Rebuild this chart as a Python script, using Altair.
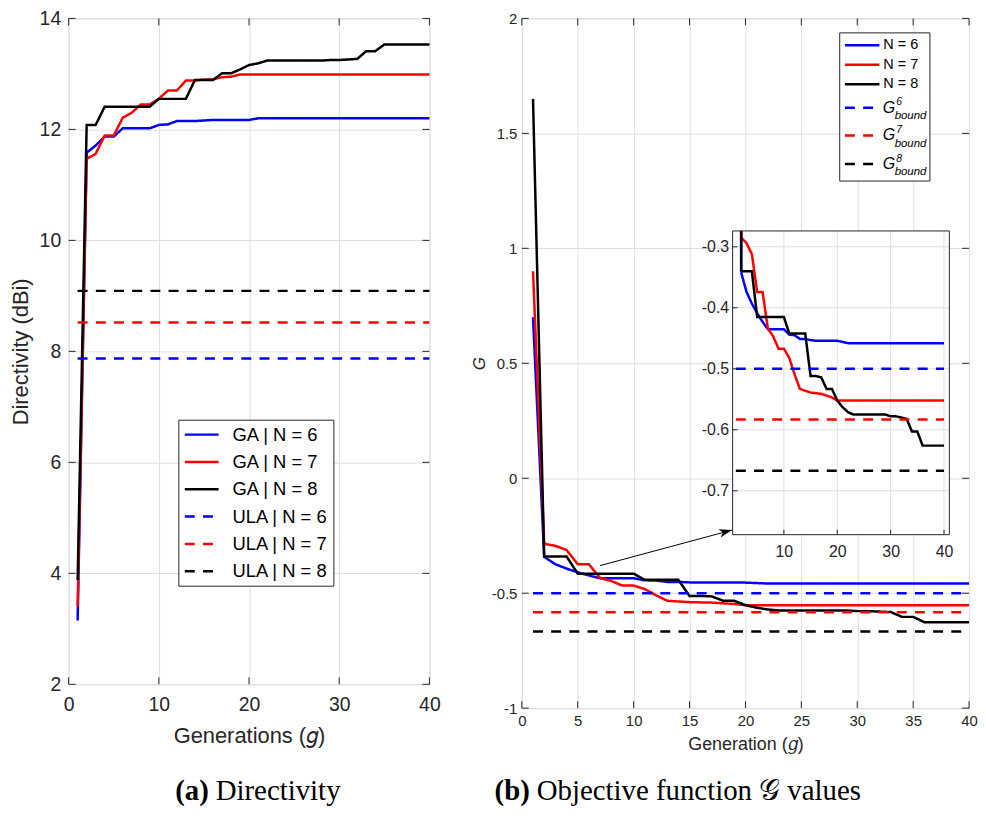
import math
import altair as alt
import pandas as pd

# ---------------- data ----------------
gens = list(range(1, 41))

# (a) Directivity (dBi) per generation
ga_n6 = [3.15, 11.58, 11.71, 11.87, 11.87, 12.02, 12.02, 12.02, 12.02, 12.08,
         12.09, 12.15, 12.15, 12.15, 12.16, 12.17, 12.17, 12.17, 12.17, 12.17,
         12.20, 12.20, 12.20, 12.20, 12.20, 12.20, 12.20, 12.20, 12.20, 12.20,
         12.20, 12.20, 12.20, 12.20, 12.20, 12.20, 12.20, 12.20, 12.20, 12.20]
ga_n7 = [3.40, 11.47, 11.56, 11.89, 11.89, 12.21, 12.30, 12.45, 12.45, 12.55,
         12.70, 12.70, 12.88, 12.88, 12.90, 12.90, 12.94, 12.95, 12.99, 12.99,
         12.99, 12.99, 12.99, 12.99, 12.99, 12.99, 12.99, 12.99, 12.99, 12.99,
         12.99, 12.99, 12.99, 12.99, 12.99, 12.99, 12.99, 12.99, 12.99, 12.99]
ga_n8 = [3.88, 12.08, 12.08, 12.41, 12.41, 12.41, 12.41, 12.41, 12.41, 12.55,
         12.55, 12.55, 12.55, 12.89, 12.89, 12.89, 13.01, 13.01, 13.08, 13.16,
         13.19, 13.24, 13.24, 13.24, 13.24, 13.24, 13.24, 13.24, 13.25, 13.25,
         13.26, 13.27, 13.41, 13.41, 13.53, 13.53, 13.53, 13.53, 13.53, 13.53]
ula_levels = [7.87, 8.52, 9.09]
left_names = ["\u2002GA | N = 6", "\u2002GA | N = 7", "\u2002GA | N = 8",
              "ULA | N = 6", "ULA | N = 7", "ULA | N = 8"]
left_x_ticks = [0, 10, 20, 30, 40]
left_y_ticks = [2, 4, 6, 8, 10, 12, 14]

# (b) Objective function values per generation
obj_n6 = [0.70, -0.342, -0.374, -0.393, -0.409, -0.423, -0.435, -0.435, -0.435, -0.435,
          -0.444, -0.445, -0.451, -0.451, -0.453, -0.454, -0.454, -0.454, -0.454, -0.454,
          -0.456, -0.458, -0.458, -0.458, -0.458, -0.458, -0.458, -0.458, -0.458, -0.458,
          -0.458, -0.458, -0.458, -0.458, -0.458, -0.458, -0.458, -0.458, -0.458, -0.458]
obj_n7 = [0.90, -0.285, -0.294, -0.312, -0.374, -0.374, -0.434, -0.447, -0.467, -0.467,
          -0.482, -0.509, -0.533, -0.536, -0.539, -0.540, -0.541, -0.544, -0.547, -0.552,
          -0.552, -0.552, -0.552, -0.552, -0.552, -0.552, -0.552, -0.552, -0.552, -0.552,
          -0.552, -0.552, -0.552, -0.552, -0.552, -0.552, -0.552, -0.552, -0.552, -0.552]
obj_n8 = [1.65, -0.340, -0.340, -0.340, -0.415, -0.415, -0.415, -0.415, -0.415, -0.415,
          -0.442, -0.442, -0.442, -0.442, -0.512, -0.512, -0.514, -0.533, -0.533, -0.552,
          -0.563, -0.571, -0.575, -0.575, -0.575, -0.575, -0.575, -0.575, -0.575, -0.578,
          -0.578, -0.580, -0.582, -0.603, -0.603, -0.626, -0.626, -0.626, -0.626, -0.626]
bound_levels = [-0.5, -0.583, -0.667]
right_names = ["N = 6", "N = 7", "N = 8", "G6 bound", "G7 bound", "G8 bound"]
bound_sup = ["6", "7", "8"]
right_x_ticks = [0, 5, 10, 15, 20, 25, 30, 35, 40]
right_y_ticks = [-1, -0.5, 0, 0.5, 1, 1.5, 2]
inset_x_ticks = [10, 20, 30, 40]
inset_y_ticks = [-0.7, -0.6, -0.5, -0.4, -0.3]
inset_xlim = [0.4, 41]
inset_ylim = [-0.772, -0.274]
arrow_from = (7.0, -0.38)
arrow_to = (18.8, -0.2255)

# ---------------- styles ----------------
COLORS = ["#0000ff", "#ff0000", "#000000"] * 2
DASHES = [[1, 0]] * 3 + [[10, 8.3]] * 3
INK = "#262626"
GRID = "#dfdfdf"
SANS = "Liberation Sans"
SERIF = "Liberation Serif, DejaVu Serif, serif"
LW = 2.5
TICK = 7
CAP_Y = 786
CAP_FS = 29
CAP_GAP = 7

W1, H1 = 363, 670
W2, H2 = 450, 694
sx1, sy1 = W1 / 365, H1 / 677
sx, sy = W2 / 454, H2 / 701


def long_df(names, series, levels, xf, yf, nf, first=0):
    rows = []
    for name, vals in zip(names[:3], series):
        for g, v in list(zip(gens, vals))[first:]:
            rows.append({xf: g, yf: v, nf: name})
    for name, lvl in zip(names[3:], levels):
        for g in (gens[0], gens[-1]):
            rows.append({xf: g, yf: lvl, nf: name})
    return pd.DataFrame(rows)


def axis(**kw):
    base = dict(grid=False, ticks=False, domain=False, labelFlush=False,
                labelColor=INK, titleColor=INK, labelFont=SANS, titleFont=SANS,
                titleFontWeight="normal")
    base.update(kw)
    return alt.Axis(**base)


one = pd.DataFrame({"k": [0]})

# ================= (a) left panel =================
left_df = long_df(left_names, [ga_n6, ga_n7, ga_n8], ula_levels, "g", "value", "series")

xL = alt.X("g:Q", scale=alt.Scale(domain=[0, 40], nice=False, zero=False),
           axis=axis(values=left_x_ticks, title="Generations (𝑔)", grid=True, gridColor=GRID,
                     labelFontSize=19.5, labelPadding=11, titleFontSize=22, titlePadding=12))
yL = alt.Y("value:Q", scale=alt.Scale(domain=[2, 14], nice=False, zero=False),
           axis=axis(values=left_y_ticks, title="Directivity (dBi)", grid=True, gridColor=GRID,
                     labelFontSize=19.5, labelPadding=8, titleFontSize=22, titlePadding=7))

leg = alt.Legend(title=None, orient="none", legendX=111 * sx1, legendY=408 * sy1,
                 direction="vertical", fillColor="white", strokeColor=INK, padding=5,
                 symbolType="M-2,0L2,0", symbolSize=289, symbolStrokeWidth=LW,
                 symbolOffset=8.5, labelOffset=21, labelFont=SANS, labelFontSize=18.5,
                 labelColor="#000000", rowPadding=7.5, labelLimit=300)

left_lines = alt.Chart(left_df).mark_line(strokeWidth=LW).encode(
    x=xL, y=yL,
    color=alt.Color("series:N", scale=alt.Scale(domain=left_names, range=COLORS), legend=leg),
    strokeDash=alt.StrokeDash("series:N", scale=alt.Scale(domain=left_names, range=DASHES), legend=leg),
)

lxt = pd.DataFrame({"g": left_x_ticks})
lyt = pd.DataFrame({"value": left_y_ticks})
left_ticks = [
    alt.Chart(lxt).mark_rule(color=INK).encode(x=xL, y=alt.value(H1), y2=alt.value(H1 - TICK)),
    alt.Chart(lxt).mark_rule(color=INK).encode(x=xL, y=alt.value(0), y2=alt.value(TICK)),
    alt.Chart(lyt).mark_rule(color=INK).encode(y=yL, x=alt.value(0), x2=alt.value(TICK)),
    alt.Chart(lyt).mark_rule(color=INK).encode(y=yL, x=alt.value(W1), x2=alt.value(W1 - TICK)),
]

cap_a_split = 141
left_caps = [
    alt.Chart(one).mark_text(text="(a)", font=SERIF, fontSize=CAP_FS, fontWeight="bold",
                             align="right", baseline="alphabetic", color="#000000")
    .encode(x=alt.value(cap_a_split), y=alt.value(CAP_Y)),
    alt.Chart(one).mark_text(text="Directivity", font=SERIF, fontSize=CAP_FS, dx=CAP_GAP,
                             align="left", baseline="alphabetic", color="#000000")
    .encode(x=alt.value(cap_a_split), y=alt.value(CAP_Y)),
]

left = alt.layer(left_lines, *left_ticks, *left_caps).properties(width=W1, height=H1)

# ================= (b) right panel =================
main_df = long_df(right_names, [obj_n6, obj_n7, obj_n8], bound_levels, "g", "v", "curve")
inset_df = long_df(right_names, [obj_n6, obj_n7, obj_n8], bound_levels, "gx", "vy", "curve", first=1)

color_r = alt.Color("curve:N", scale=alt.Scale(domain=right_names, range=COLORS), legend=None)
dash_r = alt.StrokeDash("curve:N", scale=alt.Scale(domain=right_names, range=DASHES), legend=None)

xR = alt.X("g:Q", scale=alt.Scale(domain=[0, 40], nice=False, zero=False),
           axis=axis(orient="bottom", values=right_x_ticks, title="Generation (𝑔)", grid=True,
                     gridColor=GRID, labelFontSize=15, labelPadding=5, titleFontSize=18,
                     titlePadding=8))
yR = alt.Y("v:Q", scale=alt.Scale(domain=[-1, 2], nice=False, zero=False),
           axis=axis(orient="left", values=right_y_ticks, labelExpr="datum.value + ''",
                     title="G", titleFontStyle="italic", titleFontSize=17, grid=True,
                     gridColor=GRID, labelFontSize=15, labelPadding=5, titlePadding=3))

main_lines = alt.Chart(main_df).mark_line(strokeWidth=LW).encode(x=xR, y=yR, color=color_r, strokeDash=dash_r)

rxt = pd.DataFrame({"g": right_x_ticks})
ryt = pd.DataFrame({"v": right_y_ticks})
right_ticks = [
    alt.Chart(rxt).mark_rule(color=INK).encode(x=xR, y=alt.value(H2), y2=alt.value(H2 - TICK)),
    alt.Chart(rxt).mark_rule(color=INK).encode(x=xR, y=alt.value(0), y2=alt.value(TICK)),
    alt.Chart(ryt).mark_rule(color=INK).encode(y=yR, x=alt.value(0), x2=alt.value(TICK)),
    alt.Chart(ryt).mark_rule(color=INK).encode(y=yR, x=alt.value(W2), x2=alt.value(W2 - TICK)),
]

arrow_df = pd.DataFrame({"g": [arrow_from[0]], "v": [arrow_from[1]],
                         "g2": [arrow_to[0]], "v2": [arrow_to[1]]})
head_df = pd.DataFrame({"g": [arrow_to[0]], "v": [arrow_to[1]]})
dxp = (arrow_to[0] - arrow_from[0]) * W2 / 40
dyp = (arrow_to[1] - arrow_from[1]) * H2 / 3
head_angle = math.degrees(math.atan2(dxp, dyp))
arrow_line = alt.Chart(arrow_df).mark_rule(color="#000000", strokeWidth=1).encode(
    x=xR, y=yR, x2="g2:Q", y2="v2:Q")
arrow_head = alt.Chart(head_df).mark_point(
    shape="M0,0L0.5,1.5L0,1.1L-0.5,1.5Z", filled=True, size=300, angle=head_angle,
    color="#000000", opacity=1, strokeWidth=0).encode(x=xR, y=yR)

main_layer = alt.layer(main_lines, *right_ticks, arrow_line, arrow_head)

# ---- inset ----
ix0, ix1 = 214 * sx, 434 * sx
iy0, iy1 = 216 * sy, 524.7 * sy
xI = alt.X("gx:Q", scale=alt.Scale(domain=inset_xlim, range=[ix0, ix1], nice=False, zero=False),
           axis=axis(orient="bottom", offset=-(H2 - iy1), values=inset_x_ticks, title=None,
                     labelFontSize=16, labelPadding=9, zindex=1))
yI = alt.Y("vy:Q", scale=alt.Scale(domain=inset_ylim, range=[iy1, iy0], nice=False, zero=False),
           axis=axis(orient="left", offset=-ix0, values=inset_y_ticks, labelExpr="datum.value + ''",
                     title=None, labelFontSize=16, labelPadding=4, zindex=1))

box_df = pd.DataFrame({"gx": [inset_xlim[0]], "gx2": [inset_xlim[1]],
                       "vy": [inset_ylim[0]], "vy2": [inset_ylim[1]]})
inset_bg = alt.Chart(box_df).mark_rect(fill="white", strokeWidth=0).encode(
    x=xI, x2="gx2:Q", y=yI, y2="vy2:Q")
inset_frame = alt.Chart(box_df).mark_rect(fill="white", fillOpacity=0, stroke=INK, strokeWidth=1).encode(
    x=xI, x2="gx2:Q", y=yI, y2="vy2:Q")
gv_df = pd.DataFrame({"gx": inset_x_ticks, "vy": inset_ylim[0], "vy2": inset_ylim[1]})
gh_df = pd.DataFrame({"vy": inset_y_ticks, "gx": inset_xlim[0], "gx2": inset_xlim[1]})
inset_gv = alt.Chart(gv_df).mark_rule(color=GRID).encode(x=xI, y=yI, y2="vy2:Q")
inset_gh = alt.Chart(gh_df).mark_rule(color=GRID).encode(y=yI, x=xI, x2="gx2:Q")
inset_lines = alt.Chart(inset_df).mark_line(strokeWidth=LW).encode(
    x=xI, y=yI, color=color_r, strokeDash=dash_r)
entry_df = pd.DataFrame({"gx": [gens[1]] * 3,
                         "vy": [obj_n6[1], obj_n7[1], obj_n8[1]],
                         "vy2": [inset_ylim[1]] * 3,
                         "curve": right_names[:3]})
inset_entry = alt.Chart(entry_df).mark_rule(strokeWidth=LW).encode(
    x=xI, y=yI, y2="vy2:Q", color=color_r)
ixt = pd.DataFrame({"gx": inset_x_ticks})
iyt = pd.DataFrame({"vy": inset_y_ticks})
inset_ticks = [
    alt.Chart(ixt).mark_rule(color=INK).encode(x=xI, y=alt.value(iy1), y2=alt.value(iy1 - 5)),
    alt.Chart(iyt).mark_rule(color=INK).encode(y=yI, x=alt.value(ix0), x2=alt.value(ix0 + 5)),
]
inset_layer = alt.layer(inset_bg, inset_gv, inset_gh, inset_lines, inset_entry,
                        *inset_ticks, inset_frame)

# ---- right legend (drawn) and caption ----
row_y = [27.3, 47, 67, 90.7, 119, 148]
overlay = [
    alt.Chart(one).mark_rect(fill="white", stroke=INK, strokeWidth=1).encode(
        x=alt.value(322.7 * sx), x2=alt.value(414.3 * sx),
        y=alt.value(14.7 * sy), y2=alt.value(165.3 * sy)),
]
for i in range(6):
    x_end = 363 if i < 3 else 357
    overlay.append(
        alt.Chart(one).mark_rule(color=COLORS[i], strokeDash=DASHES[i], strokeWidth=LW).encode(
            x=alt.value(328 * sx), x2=alt.value(x_end * sx), y=alt.value(row_y[i] * sy)))
for i in range(3):
    overlay.append(
        alt.Chart(one).mark_text(text=right_names[i], font=SANS, fontSize=14.5, align="left",
                                 baseline="middle", color="#000000").encode(
            x=alt.value(367 * sx), y=alt.value(row_y[i] * sy)))
for i in range(3):
    ry = row_y[3 + i]
    overlay += [
        alt.Chart(one).mark_text(text="G", font=SANS, fontSize=16, fontStyle="italic",
                                 align="left", baseline="middle", color="#000000").encode(
            x=alt.value(366.5 * sx), y=alt.value(ry * sy)),
        alt.Chart(one).mark_text(text=bound_sup[i], font=SANS, fontSize=10.5, fontStyle="italic",
                                 align="left", baseline="middle", color="#000000").encode(
            x=alt.value(380 * sx), y=alt.value((ry - 5.5) * sy)),
        alt.Chart(one).mark_text(text="bound", font=SANS, fontSize=11.5, fontStyle="italic",
                                 align="left", baseline="middle", color="#000000").encode(
            x=alt.value(378.5 * sx), y=alt.value((ry + 8.3) * sy)),
    ]
cap_b_split = 8
overlay += [
    alt.Chart(one).mark_text(text="(b)", font=SERIF, fontSize=CAP_FS, fontWeight="bold",
                             align="right", baseline="alphabetic", color="#000000")
    .encode(x=alt.value(cap_b_split), y=alt.value(CAP_Y)),
    alt.Chart(one).mark_text(text="Objective function 𝒢 values", font=SERIF, fontSize=CAP_FS,
                             dx=CAP_GAP, align="left", baseline="alphabetic", color="#000000")
    .encode(x=alt.value(cap_b_split), y=alt.value(CAP_Y)),
]

right = alt.layer(main_layer, inset_layer, *overlay).resolve_scale(
    x="independent", y="independent").properties(width=W2, height=H2)

chart = (
    alt.hconcat(left, right, spacing=28)
    .resolve_scale(color="independent", strokeDash="independent")
    .properties(padding={"top": -3, "left": 0, "right": 0, "bottom": 0}, background="white")
    .configure_view(stroke=INK, strokeWidth=1)
    .configure(font=SANS)
)

chart.save("out.html", embed_options={"renderer": "svg", "actions": False})
